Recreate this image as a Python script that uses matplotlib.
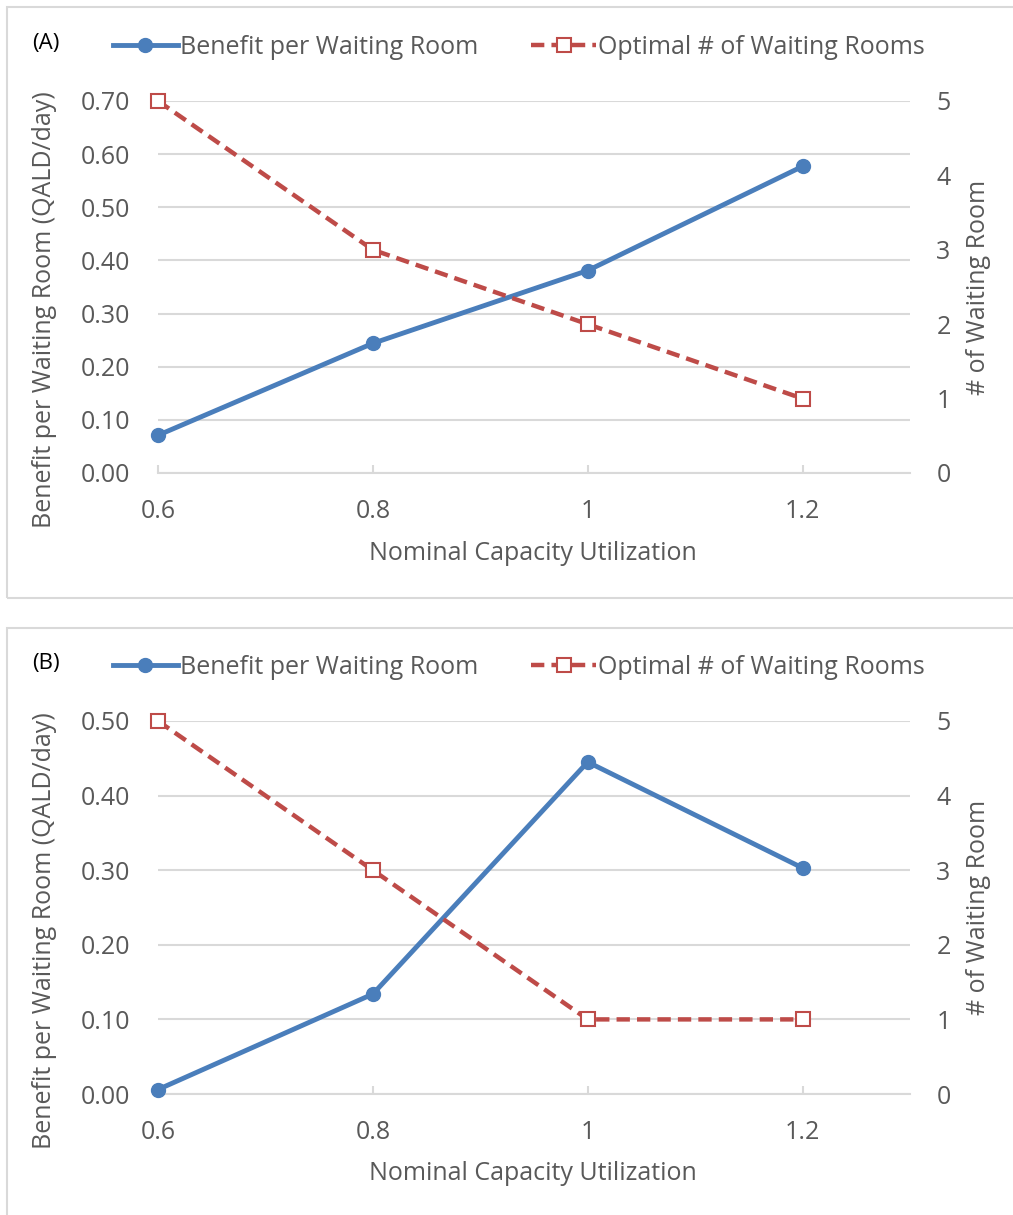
import numpy as np
import matplotlib.pyplot as plt
from matplotlib.lines import Line2D
from matplotlib.patches import Rectangle

plt.rcParams['font.family'] = ['Open Sans', 'DejaVu Sans']

util = [0.6, 0.8, 1.0, 1.2]
benefit_a = [0.071, 0.244, 0.381, 0.577]
rooms_a = [5, 3, 2, 1]
benefit_b = [0.006, 0.134, 0.445, 0.303]
rooms_b = [5, 3, 1, 1]

blue = '#4a7ebb'
red = '#be4b48'
grid = '#d9d9d9'
txt = '#595959'
fs = 18

W, H = 1013, 1215
fig = plt.figure(figsize=(W / 100, H / 100), dpi=100)

def fx(x): return x / W
def fy(y): return 1 - y / H

panels = [
    dict(tag='(A)', ben=benefit_a, rooms=rooms_a, top=101, bot=473, ymax=0.70,
         box=(7, 7, 598)),
    dict(tag='(B)', ben=benefit_b, rooms=rooms_b, top=721, bot=1094, ymax=0.50,
         box=(7, 628, 1225)),
]

for p in panels:
    x0, y0, y1 = p['box']
    fig.patches.append(Rectangle((fx(x0), fy(y1)), fx(W + 10 - x0), fy(y0) - fy(y1),
                                 transform=fig.transFigure, fill=False,
                                 edgecolor=grid, lw=1.5))

    ax = fig.add_axes([fx(158), fy(p['bot']), fx(910 - 158), fy(p['top']) - fy(p['bot'])])
    ax.set_xlim(0.6, 1.3)
    ax.set_ylim(0, p['ymax'])
    ax.set_xticks(util)
    ax.set_xticklabels(['0.6', '0.8', '1', '1.2'])
    yt = np.arange(0, p['ymax'] + 0.001, 0.1)
    ax.set_yticks(yt)
    ax.set_yticklabels([f'{v:.2f}' for v in yt])
    for s in ['top', 'right', 'left']:
        ax.spines[s].set_visible(False)
    ax.spines['bottom'].set_color(grid)
    ax.spines['bottom'].set_linewidth(1.5)
    ax.grid(axis='y', color=grid, lw=1.5)
    ax.set_axisbelow(True)
    ax.tick_params(axis='x', direction='in', length=6, width=1.5, color=grid,
                   labelsize=fs, labelcolor=txt, pad=19)
    ax.tick_params(axis='y', length=0, labelsize=fs, labelcolor=txt, pad=20)

    ax2 = ax.twinx()
    ax2.set_ylim(0, 5)
    ax2.set_yticks(range(6))
    for s in ['top', 'right', 'left', 'bottom']:
        ax2.spines[s].set_visible(False)
    ax2.tick_params(axis='y', length=0, labelsize=fs, labelcolor=txt, pad=19)

    ax.plot(util, p['ben'], color=blue, lw=3.5, marker='o', ms=10, zorder=3,
            solid_capstyle='round', clip_on=False)
    ax2.plot(util, p['rooms'], color=red, lw=3.2, ls=(0, (3, 1.6)), marker='s', ms=10,
             mfc='white', mec=red, mew=1.5, zorder=3, clip_on=False)

    fig.text(fx(45), fy((p['top'] + p['bot']) / 2 + 23), 'Benefit per Waiting Room (QALD/day)',
             rotation=90, ha='center', va='center', fontsize=fs, color=txt)
    fig.text(fx(978), fy((p['top'] + p['bot']) / 2), '# of Waiting Room',
             rotation=90, ha='center', va='center', fontsize=fs, color=txt)
    fig.text(fx(533), fy(p['bot'] + 80), 'Nominal Capacity Utilization',
             ha='center', va='center', fontsize=fs, color=txt)
    fig.text(fx(32), fy(p['top'] - 57), p['tag'], ha='left', va='center',
             fontsize=16, color='black')

    handles = [Line2D([], [], color=blue, lw=3.5, marker='o', ms=10),
               Line2D([], [], color=red, lw=3.2, ls=(0, (3, 1.6)), marker='s', ms=10,
                      mfc='white', mec=red, mew=1.5)]
    fig.legend(handles, ['Benefit per Waiting Room', 'Optimal # of Waiting Rooms'],
               loc='center', bbox_to_anchor=(fx(519), fy(p['top'] - 54)), ncol=2,
               frameon=False, fontsize=fs, labelcolor=txt, handlelength=2.6,
               handletextpad=0.1, columnspacing=2.1)

fig.savefig('out.png', dpi=100)
